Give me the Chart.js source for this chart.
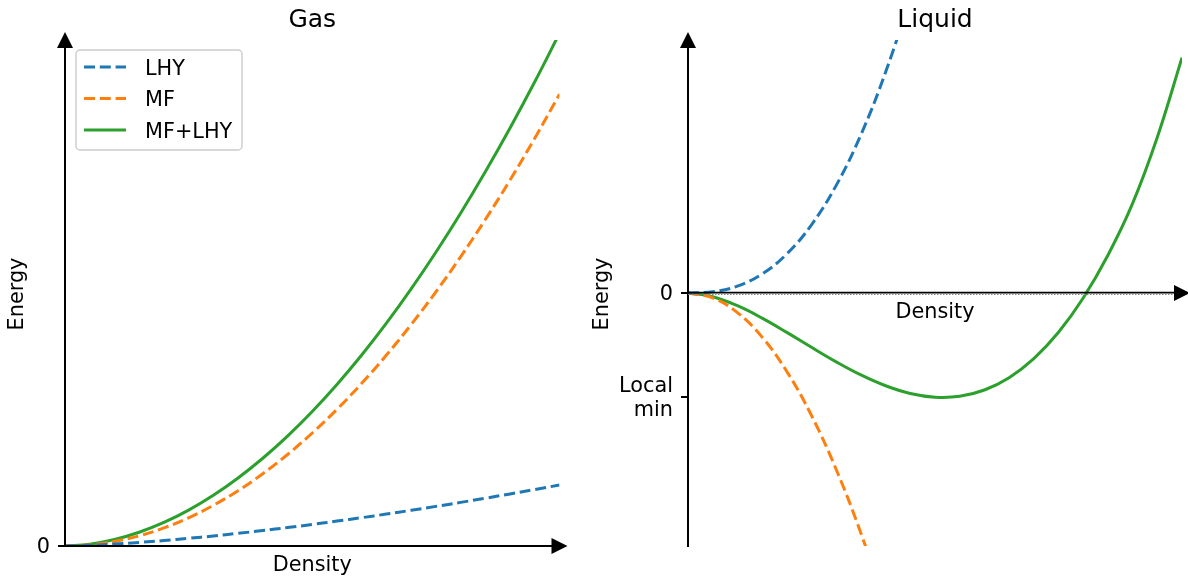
<!DOCTYPE html>
<html>
<head>
<meta charset="utf-8">
<script src="https://cdn.jsdelivr.net/npm/chart.js@4.4.1/dist/chart.umd.min.js"></script>
<style>
  html, body { margin: 0; padding: 0; background: #fff; }
  #wrap { position: relative; width: 1188px; height: 578px; overflow: hidden; }
  canvas { position: absolute; top: 0; }
</style>
</head>
<body>
<div id="wrap">
  <canvas id="gas" width="580" height="578" style="left:0;width:580px;height:578px"></canvas>
  <canvas id="liquid" width="608" height="578" style="left:580px;width:608px;height:578px"></canvas>
</div>
<script>
// Density samples shared by both panels (arbitrary units, 0..1)
const density = [0, 0.05, 0.10, 0.15, 0.20, 0.25, 0.30, 0.35, 0.40, 0.45, 0.50,
                 0.55, 0.60, 0.65, 0.70, 0.75, 0.80, 0.85, 0.90, 0.95, 1.00];

const seriesNames = ['LHY', 'MF', 'MF+LHY'];
const panelTitles = ['Gas', 'Liquid'];
const axisTitles = { x: 'Density', y: 'Energy' };

// Gas: repulsive mean field, small LHY correction
const gasLHY   = [0, 0.0013, 0.0038, 0.0070, 0.0108, 0.0151, 0.0198, 0.0250, 0.0305, 0.0364, 0.0426,
                  0.0492, 0.0560, 0.0631, 0.0706, 0.0783, 0.0862, 0.0944, 0.1029, 0.1116, 0.1205];
const gasMF    = [0, 0.0022, 0.0089, 0.0201, 0.0357, 0.0558, 0.0804, 0.1094, 0.1429, 0.1808, 0.2233,
                  0.2701, 0.3215, 0.3773, 0.4376, 0.5023, 0.5715, 0.6452, 0.7233, 0.8059, 0.8930];
const gasTotal = [0, 0.0035, 0.0127, 0.0271, 0.0465, 0.0709, 0.1002, 0.1344, 0.1734, 0.2172, 0.2659,
                  0.3193, 0.3775, 0.4404, 0.5082, 0.5806, 0.6577, 0.7396, 0.8262, 0.9175, 1.0135];

// Liquid: attractive mean field balanced by LHY repulsion
const liquidLHY   = [0, 0.0048, 0.0273, 0.0752, 0.1544, 0.2697, 0.4254, 0.6254, 0.8733, 1.1723, 1.5256,
                     1.9361, 2.4065, 2.9396, 3.5380, 4.2040, 4.9401, 5.7485, 6.6316, 7.6100, 8.6800];
const liquidMF    = [0, -0.0194, -0.0775, -0.1744, -0.3100, -0.4844, -0.6975, -0.9494, -1.2400, -1.5694, -1.9375,
                     -2.3444, -2.7900, -3.2744, -3.7975, -4.3594, -4.9600, -5.5994, -6.2775, -6.9944, -7.7500];
const liquidTotal = [0, -0.0146, -0.0502, -0.0992, -0.1556, -0.2147, -0.2721, -0.3240, -0.3667, -0.3971, -0.4119,
                     -0.4083, -0.3835, -0.3348, -0.2595, -0.1554, -0.0199, 0.1491, 0.3541, 0.6156, 0.9300];

// Energy axis ticks
const gasYTicks = [0];
const gasYTickLabels = ['0'];
const liquidYTicks = [0, -0.411];
const liquidYTickLabels = ['0', 'Local\nmin'];

const FONT = '"DejaVu Sans", "Liberation Sans", sans-serif';
const LABEL_PX = 20.8;
const TITLE_PX = 25;
const LW = 3;
const DASH = [11, 4.8];
const COLORS = ['#1f77b4', '#ff7f0e', '#2ca02c'];

function points(ys) {
  return density.map((d, i) => ({ x: d, y: ys[i] }));
}

function makeDatasets(lhy, mf, total) {
  const vals = [lhy, mf, total];
  return vals.map((v, i) => ({
    label: seriesNames[i],
    data: points(v),
    borderColor: COLORS[i],
    backgroundColor: COLORS[i],
    borderWidth: LW,
    borderDash: i < 2 ? DASH : [],
    pointRadius: 0,
    fill: false,
    tension: 0.4,
    clip: 0
  }));
}

function arrowHead(ctx, x, y, dir, h) {
  ctx.beginPath();
  if (dir === 'right') {
    ctx.moveTo(x + h, y); ctx.lineTo(x - h, y - h); ctx.lineTo(x - h, y + h);
  } else {
    ctx.moveTo(x, y - h); ctx.lineTo(x - h, y + h); ctx.lineTo(x + h, y + h);
  }
  ctx.closePath();
  ctx.fill();
}

// Draws arrowed axes, ticks, titles and the legend on top of the curves
const sketchAxes = {
  id: 'sketchAxes',
  afterDatasetsDraw(chart, args, o) {
    const { ctx, chartArea: a, scales } = chart;
    const xs = scales.x, ys = scales.y;
    const x0 = xs.getPixelForValue(0);
    const y0 = ys.getPixelForValue(0);
    ctx.save();
    ctx.strokeStyle = '#000';
    ctx.fillStyle = '#000';
    ctx.lineWidth = 2;

    // vertical energy axis
    ctx.beginPath(); ctx.moveTo(x0, a.bottom + 1); ctx.lineTo(x0, a.top); ctx.stroke();
    arrowHead(ctx, x0, a.top, 'up', 8);

    // horizontal density axis through zero energy
    if (o.dottedZero) {
      ctx.save();
      ctx.strokeStyle = '#888';
      ctx.lineWidth = 1.2;
      ctx.setLineDash([1.5, 1.5]);
      ctx.beginPath(); ctx.moveTo(x0, y0 + 1.5); ctx.lineTo(a.right, y0 + 1.5); ctx.stroke();
      ctx.restore();
      ctx.lineWidth = 1.8;
      ctx.beginPath(); ctx.moveTo(x0, y0 - 0.3); ctx.lineTo(a.right, y0 - 0.3); ctx.stroke();
      ctx.lineWidth = 2;
    } else {
      ctx.beginPath(); ctx.moveTo(x0, y0); ctx.lineTo(a.right, y0); ctx.stroke();
    }
    arrowHead(ctx, a.right, y0, 'right', 8);

    // energy ticks
    ctx.font = `${LABEL_PX}px ${FONT}`;
    ctx.textAlign = 'right';
    ctx.textBaseline = 'alphabetic';
    o.ticks.forEach((v, i) => {
      const py = ys.getPixelForValue(v);
      ctx.beginPath(); ctx.moveTo(x0 - 7, py); ctx.lineTo(x0, py); ctx.stroke();
      const lines = String(o.tickLabels[i]).split('\n');
      lines.forEach((t, k) => {
        const base = py + LABEL_PX * 0.36 + (k - (lines.length - 1) / 2) * 24;
        ctx.fillText(t, x0 - 15, base);
      });
    });

    // panel title
    const cx = (a.left + a.right) / 2;
    ctx.textAlign = 'center';
    ctx.font = `${TITLE_PX}px ${FONT}`;
    ctx.fillText(o.title, cx, 27.3);

    // axis titles
    ctx.font = `${LABEL_PX}px ${FONT}`;
    ctx.fillText(axisTitles.x, cx, y0 + 24.5);
    ctx.save();
    ctx.translate(o.yTitleX, 294);
    ctx.rotate(-Math.PI / 2);
    ctx.fillText(axisTitles.y, 0, 0);
    ctx.restore();

    // legend
    if (o.legend) {
      const L = o.legend;
      ctx.save();
      ctx.beginPath();
      ctx.roundRect(L.x, L.y, L.w, L.h, 4);
      ctx.fillStyle = 'rgba(255,255,255,0.8)';
      ctx.fill();
      ctx.strokeStyle = '#cccccc';
      ctx.lineWidth = 1.4;
      ctx.stroke();
      ctx.restore();
      chart.data.datasets.forEach((ds, i) => {
        const cy = L.rows[i];
        ctx.save();
        ctx.strokeStyle = ds.borderColor;
        ctx.lineWidth = LW;
        ctx.setLineDash(ds.borderDash || []);
        ctx.beginPath(); ctx.moveTo(L.x + 8, cy); ctx.lineTo(L.x + 50, cy); ctx.stroke();
        ctx.restore();
        ctx.textAlign = 'left';
        ctx.fillStyle = '#000';
        ctx.fillText(ds.label, L.x + 69, cy + 7.5);
      });
    }
    ctx.restore();
  }
};

function baseOptions(yMin, yMax, padding, panel) {
  return {
    responsive: false,
    animation: false,
    devicePixelRatio: 1,
    layout: { padding },
    events: [],
    scales: {
      x: { type: 'linear', min: 0, max: 1, display: false },
      y: { type: 'linear', min: yMin, max: yMax, display: false }
    },
    plugins: {
      legend: { display: false },
      tooltip: { enabled: false },
      title: { display: false },
      sketchAxes: panel
    }
  };
}

new Chart(document.getElementById('gas'), {
  type: 'line',
  data: { datasets: makeDatasets(gasLHY, gasMF, gasTotal) },
  options: baseOptions(0, 1, { left: 65, right: 20.5, top: 40, bottom: 32 }, {
    title: panelTitles[0],
    ticks: gasYTicks,
    tickLabels: gasYTickLabels,
    yTitleX: 23.3,
    dottedZero: false,
    legend: { x: 76, y: 50, w: 166, h: 100, rows: [67, 98.5, 130] }
  }),
  plugins: [sketchAxes]
});

new Chart(document.getElementById('liquid'), {
  type: 'line',
  data: { datasets: makeDatasets(liquidLHY, liquidMF, liquidTotal) },
  options: baseOptions(-1, 1, { left: 108, right: 6, top: 40, bottom: 32 }, {
    title: panelTitles[1],
    ticks: liquidYTicks,
    tickLabels: liquidYTickLabels,
    yTitleX: 27.5,
    dottedZero: true,
    legend: null
  }),
  plugins: [sketchAxes]
});
</script>
</body>
</html>
